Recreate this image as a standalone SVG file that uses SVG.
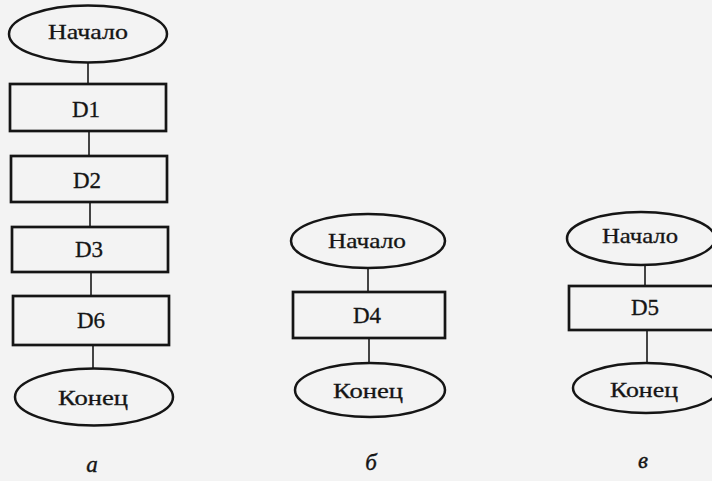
<svg xmlns="http://www.w3.org/2000/svg" width="712" height="481" viewBox="0 0 712 481">
  <style>
    .term { fill: none; stroke: #151515; stroke-width: 2.5; }
    .proc { fill: none; stroke: #151515; stroke-width: 2.7; }
    .link { stroke: #252525; stroke-width: 1.7; fill: none; }
    .t { font-family: "Liberation Serif", "Times New Roman", serif; fill: #151515; stroke: #151515; stroke-width: 0.3; text-anchor: middle; }
    .lbl { font-size: 21px; }
    .dl { font-size: 23px; }
    .cap { font-family: "Liberation Serif", "Times New Roman", serif; font-style: italic; font-size: 23px; fill: #151515; stroke: #151515; stroke-width: 0.4; text-anchor: middle; }
  </style>
  <rect width="712" height="481" fill="#f3f3f3"/>

  <!-- connectors -->
  <g id="connectors">
    <line class="link" x1="88" y1="63" x2="88" y2="84"/>
    <line class="link" x1="89" y1="131" x2="89" y2="156"/>
    <line class="link" x1="90" y1="202" x2="90" y2="227"/>
    <line class="link" x1="91" y1="272" x2="91" y2="296"/>
    <line class="link" x1="93" y1="345" x2="93" y2="369"/>

    <line class="link" x1="368" y1="268" x2="368" y2="292"/>
    <line class="link" x1="369" y1="338" x2="369" y2="363"/>

    <line class="link" x1="645" y1="265" x2="645" y2="286"/>
    <line class="link" x1="647" y1="330" x2="647" y2="363"/>
  </g>

  <!-- flowchart a -->
  <g id="a-start">
    <ellipse class="term" cx="88" cy="34" rx="79" ry="28.5"/>
    <text class="t lbl" x="88" y="39" textLength="80" lengthAdjust="spacingAndGlyphs">Начало</text>
  </g>
  <g id="a-d1">
    <rect class="proc" x="10" y="84" width="156" height="47"/>
    <text class="t dl" x="86" y="117">D1</text>
  </g>
  <g id="a-d2">
    <rect class="proc" x="11" y="156" width="156" height="46"/>
    <text class="t dl" x="87" y="188">D2</text>
  </g>
  <g id="a-d3">
    <rect class="proc" x="12" y="227" width="156" height="45"/>
    <text class="t dl" x="89" y="257">D3</text>
  </g>
  <g id="a-d6">
    <rect class="proc" x="13" y="296" width="156" height="49"/>
    <text class="t dl" x="91" y="328">D6</text>
  </g>
  <g id="a-end">
    <ellipse class="term" cx="94" cy="397" rx="79" ry="28.5"/>
    <text class="t lbl" x="93" y="405" textLength="70" lengthAdjust="spacingAndGlyphs">Конец</text>
  </g>
  <text class="cap" x="92" y="472">а</text>

  <!-- flowchart b -->
  <g id="b-start">
    <ellipse class="term" cx="368" cy="241" rx="77" ry="27"/>
    <text class="t lbl" x="367" y="248" textLength="78" lengthAdjust="spacingAndGlyphs">Начало</text>
  </g>
  <g id="b-d4">
    <rect class="proc" x="293" y="292" width="152" height="46"/>
    <text class="t dl" x="367" y="323">D4</text>
  </g>
  <g id="b-end">
    <ellipse class="term" cx="370" cy="390" rx="75" ry="27"/>
    <text class="t lbl" x="368" y="398" textLength="70" lengthAdjust="spacingAndGlyphs">Конец</text>
  </g>
  <text class="cap" x="371" y="470">б</text>

  <!-- flowchart c -->
  <g id="c-start">
    <ellipse class="term" cx="641" cy="238.5" rx="74" ry="26.5"/>
    <text class="t lbl" x="640" y="243" textLength="76" lengthAdjust="spacingAndGlyphs">Начало</text>
  </g>
  <g id="c-d5">
    <rect class="proc" x="569" y="286" width="150" height="44"/>
    <text class="t dl" x="645" y="315">D5</text>
  </g>
  <g id="c-end">
    <ellipse class="term" cx="646" cy="388" rx="73" ry="25"/>
    <text class="t lbl" x="644" y="397" textLength="68" lengthAdjust="spacingAndGlyphs">Конец</text>
  </g>
  <text class="cap" x="643" y="468">в</text>
</svg>
